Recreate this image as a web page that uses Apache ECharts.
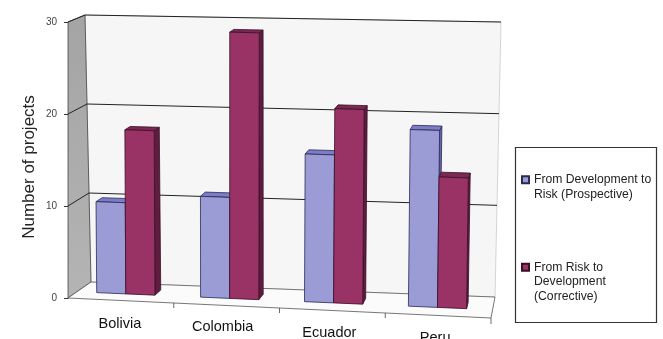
<!DOCTYPE html>
<html>
<head>
<meta charset="utf-8">
<script src="https://cdn.jsdelivr.net/npm/echarts@6/dist/echarts.min.js"></script>
<style>
  html, body { margin: 0; padding: 0; background: #fff; }
  #main { width: 663px; height: 339px; }
</style>
</head>
<body>
<div id="main"></div>
<script>
// data
const categories = ['Bolivia', 'Colombia', 'Ecuador', 'Peru'];
const prospective = [10, 11, 16, 19];
const corrective = [18, 29, 21, 14];
const yTicks = [0, 10, 20, 30];
const nameProspective = 'From Development to\nRisk (Prospective)';
const nameCorrective = 'From Risk to\nDevelopment\n(Corrective)';

const FONT = '"Liberation Sans", Arial, sans-serif';
const BW = 0.07;          // bar width in box units
const D0 = 0.39, D1 = 0.69; // bar depth range

// fake perspective box: corners are offsets from the grid rect
function makeProj(r) {
  const L = r.x, T = r.y, R = r.x + r.width, B = r.y + r.height;
  const FLB = [L, B], FLT = [L, T], FRB = [R, B + 20], FRT = [R + 3, T + 12];
  const BLB = [L + 23, B - 16], BLT = [L + 17, T - 7], BRB = [R + 4, B - 1], BRT = [R + 10, T];
  const lerp = (a, b, k) => [a[0] + (b[0] - a[0]) * k, a[1] + (b[1] - a[1]) * k];
  return function (u, t, d) {
    const f = lerp(lerp(FLB, FRB, u), lerp(FLT, FRT, u), t);
    const b = lerp(lerp(BLB, BRB, u), lerp(BLT, BRT, u), t);
    return lerp(f, b, d);
  };
}

function frameItem(params, api) {
  const r = params.coordSys;
  const P = makeProj(r);
  const bottom = r.y + r.height;
  const kids = [];
  kids.push({ type: 'polygon', shape: { points: [P(0,0,1), P(1,0,1), P(1,1,1), P(0,1,1)] },
    style: { fill: '#f6f6f6', stroke: '#bbb', lineWidth: 0.6 } });
  kids.push({ type: 'polygon', shape: { points: [P(0,0,0), P(0,0,1), P(0,1,1), P(0,1,0)] },
    style: { fill: new echarts.graphic.LinearGradient(0, 0, 0, 1, [
      { offset: 0, color: '#a4a4a4' }, { offset: 1, color: '#b4b4b4' }]), stroke: '#444', lineWidth: 0.8 } });
  kids.push({ type: 'polygon', shape: { points: [P(0,0,0), P(1,0,0), P(1,0,1), P(0,0,1)] },
    style: { fill: '#fbfbfb', stroke: '#555', lineWidth: 0.8 } });
  yTicks.forEach(function (v) {
    if (v === 0) return;
    const t = (bottom - api.coord([0, v])[1]) / r.height;
    kids.push({ type: 'polyline', shape: { points: [P(0,t,0), P(0,t,1), P(1,t,1)] },
      style: { stroke: '#222', lineWidth: 1, fill: null } });
  });
  for (let k = 1; k < categories.length; k++) {
    const p = P(k / categories.length, 0, 0);
    kids.push({ type: 'line', shape: { x1: p[0], y1: p[1], x2: p[0], y2: p[1] + 5 },
      style: { stroke: '#444', lineWidth: 0.8 } });
  }
  const pr = P(1, 0, 0);
  kids.push({ type: 'line', shape: { x1: pr[0], y1: pr[1], x2: pr[0], y2: pr[1] + 6 },
    style: { stroke: '#444', lineWidth: 0.8 } });
  return { type: 'group', silent: true, children: kids };
}

function barItem(left, colors) {
  return function (params, api) {
    const r = params.coordSys;
    const P = makeProj(r);
    const i = api.value(0);
    const t = (r.y + r.height - api.coord([i, api.value(1)])[1]) / r.height;
    const uc = (i + 0.47) / categories.length;
    const u0 = left ? uc - BW : uc;
    const u1 = u0 + BW;
    const st = function (c) { return { fill: c, stroke: colors.line, lineWidth: 0.8 }; };
    return { type: 'group', children: [
      { type: 'polygon', shape: { points: [P(u1,0,D0), P(u1,0,D1), P(u1,t,D1), P(u1,t,D0)] }, style: st(colors.side) },
      { type: 'polygon', shape: { points: [P(u0,t,D0), P(u1,t,D0), P(u1,t,D1), P(u0,t,D1)] }, style: st(colors.top) },
      { type: 'polygon', shape: { points: [P(u0,0,D0), P(u1,0,D0), P(u1,t,D0), P(u0,t,D0)] }, style: st(colors.front) }
    ] };
  };
}

const blue = { front: '#9b9bd6', top: '#7c7cc8', side: '#6565ad', line: '#2a2a55' };
const red = { front: '#993366', top: '#7b2853', side: '#5e1c40', line: '#3a0f25' };

// per-label nudge [down, right padding] to follow the slanted floor
const labelShift = [[0, 2], [3, 8], [9, 6], [14, 6]];
const rich = {};
labelShift.forEach(function (s, k) {
  rich['c' + k] = { fontFamily: FONT, fontSize: 14.5, color: '#111', padding: [s[0], s[1], 0, 0] };
});

const legendText = { fontFamily: FONT, fontSize: 12.2, lineHeight: 14.5, color: '#222' };
// blank lines on top so the icon sits next to the first line
const topAlign = function (name) {
  return '\n'.repeat(name.split('\n').length - 1) + name;
};

const chart = echarts.init(document.getElementById('main'));
chart.setOption({
  animation: false,
  backgroundColor: '#fff',
  grid: { left: 68, top: 22, right: 172, bottom: 41, outerBoundsMode: 'none', containLabel: false },
  xAxis: {
    type: 'category', data: categories,
    axisLine: { show: false }, axisTick: { show: false },
    axisLabel: { margin: 18.5, formatter: function (v, k) { return '{c' + k + '|' + v + '}'; }, rich: rich }
  },
  yAxis: {
    type: 'value', min: 0, max: 30, interval: 10,
    name: 'Number of projects', nameLocation: 'middle', nameGap: 30, nameRotate: 90, nameMoveOverlap: false,
    nameTextStyle: { fontFamily: FONT, fontSize: 17, color: '#222', padding: [0, 0, 0, -14] },
    axisLine: { show: true, lineStyle: { color: '#333', width: 1 } },
    axisTick: { show: true, length: 4, lineStyle: { color: '#333' } },
    axisLabel: { fontFamily: FONT, fontSize: 10, color: '#444', margin: 11 },
    splitLine: { show: false }
  },
  legend: [
    { left: 521, top: 158, padding: 0, itemWidth: 7, itemHeight: 7, icon: 'rect',
      data: [nameProspective], formatter: topAlign, textStyle: legendText },
    { left: 521, top: 231, padding: 0, itemWidth: 7, itemHeight: 7, icon: 'rect',
      data: [nameCorrective], formatter: topAlign, textStyle: legendText }
  ],
  graphic: [{ type: 'rect', z: -1, shape: { x: 515.5, y: 147.5, width: 141, height: 175 },
    style: { fill: '#fff', stroke: '#333', lineWidth: 1.2 } }],
  series: [
    { type: 'custom', name: 'frame', renderItem: frameItem, data: [[0, 0]], z: 1, silent: true },
    { type: 'custom', name: nameProspective, renderItem: barItem(true, blue), z: 2,
      itemStyle: { color: blue.front, borderColor: blue.line, borderWidth: 1 },
      data: categories.map(function (c, k) { return [k, prospective[k]]; }) },
    { type: 'custom', name: nameCorrective, renderItem: barItem(false, red), z: 2,
      itemStyle: { color: red.front, borderColor: red.line, borderWidth: 1 },
      data: categories.map(function (c, k) { return [k, corrective[k]]; }) }
  ]
});
</script>
</body>
</html>
